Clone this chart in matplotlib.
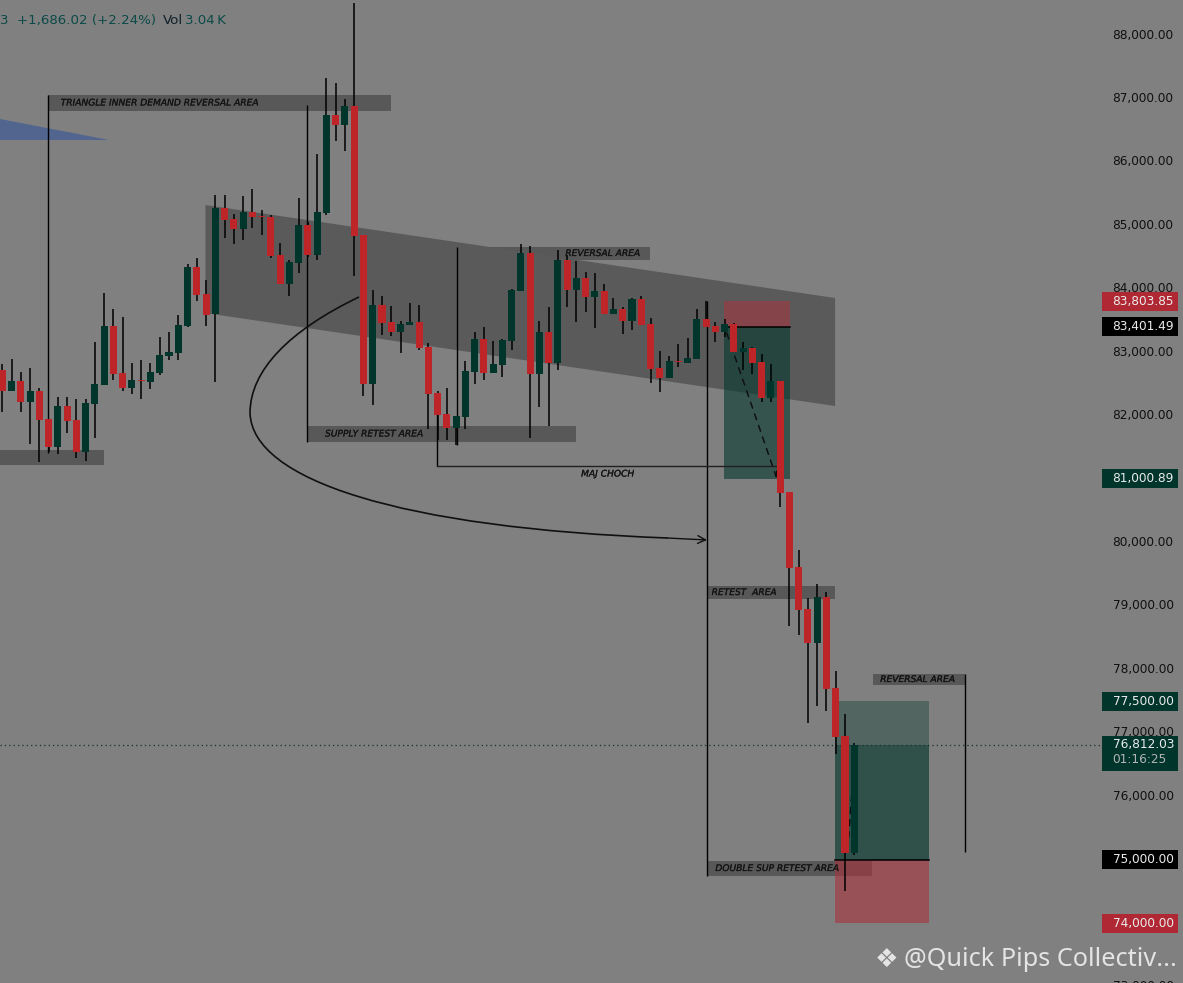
import matplotlib
matplotlib.use('Agg')
import matplotlib.pyplot as plt
import matplotlib.patheffects as pe
from matplotlib.patches import Polygon, Rectangle, PathPatch
from matplotlib.path import Path
import numpy as np

# candles, one entry per bar
opens = [82720,82390,82550,82210,82390,81950,81500,82150,81930,81430,
	82180,82480,83410,82670,82430,82560,82530,82670,82940,82990,
	83410,84340,83920,83600,85270,85100,84940,85210,85150,85130,
	84530,84070,84400,85000,84530,85190,86740,86580,86880,84850,
	82500,83740,83470,83320,83430,83470,83080,82350,82020,81800,
	81980,82685,83210,82670,82800,83170,83960,84560,82650,83320,
	82830,84450,83980,84170,83870,83960,83600,83680,83490,83840,
	83440,82750,82590,82860,82830,82890,83520,83410,83320,83440,
	83000,83060,82840,82280,82540,80790,79610,78950,78410,79140,
	77700,76950,75100]
highs = [82810,82890,82690,82750,82430,81950,82290,82290,82260,82260,
	83160,83930,83680,83550,82830,82880,82830,83240,83320,83590,
	84390,84480,84140,85480,85480,85180,85460,85570,85240,85160,
	84720,84450,85430,85050,86120,87320,87240,86990,88500,84850,
	83980,83890,83730,83490,83770,83740,83140,82390,82430,81990,
	82860,83320,83400,83170,83210,84000,84700,84670,83490,83710,
	84610,84530,84440,84260,84250,84070,83850,83710,83850,83880,
	83540,83020,82940,83130,83220,83680,83800,83470,83520,83460,
	83160,83080,82970,82810,82540,80790,79880,79120,79340,79220,
	77970,77290,76840]
lows = [82050,82390,82060,81550,81270,81420,81390,81720,81330,81280,
	81650,82480,82560,82390,82340,82260,82420,82640,82880,82880,
	83400,83810,83410,82530,84800,84700,84770,84960,84850,84480,
	84070,83890,84250,84500,84450,85160,86330,86170,84200,82310,
	82170,83270,83250,82990,83430,83030,81790,81610,81610,81530,
	81790,82500,82560,82670,82610,83030,83960,81650,82130,81830,
	82720,83710,83470,83630,83380,83600,83600,83290,83350,83430,
	82510,82370,82590,82760,82830,82890,83400,83160,83240,83000,
	82720,82650,82210,82210,80560,78680,78540,77150,77420,77350,
	76660,74500,75080]
closes = [82390,82550,82210,82390,81930,81500,82150,81910,81430,82200,
	82500,83410,82650,82430,82560,82540,82690,82950,83000,83430,
	84340,83900,83590,85270,85080,84940,85210,85130,85130,84515,
	84070,84420,85000,84530,85210,86740,86580,86880,84830,82500,
	83740,83460,83320,83440,83470,83060,82340,82010,81800,81990,
	82700,83210,82670,82810,83190,83980,84560,82650,83320,82830,
	84450,83980,84170,83870,83960,83600,83680,83490,83840,83430,
	82730,82590,82860,82840,82910,83520,83400,83320,83440,83000,
	83060,82830,82280,82540,80780,79590,78930,78410,79140,77690,
	76930,75100,76812.03]

price_ticks = [88000,87000,86000,85000,84000,83000,82000,81000,80000,79000,78000,77000,76000,73000]
last_price = 76812.03

# drawings, x in bars and y in price
channel_x = [21.94, 89.93, 89.93, 21.94]
channel_y = [85320, 83854, 82151, 83617]
triangle_x = [-0.25, 11.52, -0.25]
triangle_y = [86676, 86345, 86345]

zone_names = ['TRIANGLE INNER DEMAND REVERSAL AREA', '', 'SUPPLY RETEST AREA', 'REVERSAL AREA', 'RETEST  AREA', 'DOUBLE SUP RETEST AREA', 'REVERSAL AREA']
zone_left = [4.93, -0.25, 32.9, 49.05, 76.1, 76.1, 94.03]
zone_right = [41.98, 10.98, 61.95, 69.95, 89.93, 93.92, 103.96]
zone_top = [87054, 81457, 81836, 84658, 79313, 74978, 77926]
zone_bottom = [86802, 81221, 81584, 84453, 79108, 74742, 77753]
zone_text_x = [6.3, 0, 34.85, 60.8, 76.6, 77.0, 94.8]

line_x = [4.93, 32.9, 49.05, 46.94, 76.1, 103.96]
line_top = [87054, 86896, 84658, 82356, 83807, 77926]
line_bottom = [81415, 81584, 81536, 81205, 74742, 75120]

# position boxes: stop, entry, target
short_x = [77.94, 85.06]
short_levels = [83803.85, 83401.49, 81000.89]
long_x = [89.93, 100.07]
long_levels = [74000.00, 75000.00, 77500.00]

BG = '#808080'
UP = '#00352b'
DOWN = '#bd2528'
TICK = '#101010'
GREEN_TAG = '#00352b'
RED_TAG = '#b02833'
thick = [pe.withStroke(linewidth=0.15, foreground='#141414')]

fig = plt.figure(figsize=(11.83, 9.83), dpi=100, facecolor=BG)
ax = fig.add_axes([0, 0, 1, 1])
ax.set_facecolor(BG)
ax.set_xlim(-0.25, 127.5)
ax.set_ylim(73055, 88552)
ax.axis('off')
trans = ax.get_yaxis_transform()

ax.add_patch(Polygon(np.column_stack([channel_x, channel_y]), color='#5a5a5a', lw=0, zorder=1))
ax.add_patch(Polygon(np.column_stack([triangle_x, triangle_y]), color='#51658f', lw=0, zorder=1))

for i in range(len(zone_names)):
	ax.add_patch(Rectangle((zone_left[i], zone_bottom[i]), zone_right[i]-zone_left[i], zone_top[i]-zone_bottom[i], color='black', alpha=0.31, lw=0, zorder=0.9))
	if zone_names[i]:
		ax.text(zone_text_x[i], (zone_top[i]+zone_bottom[i])/2, zone_names[i], style='italic', fontsize=6.55,
			color='#141414', va='center', ha='left', zorder=6, path_effects=thick)

# short setup
ax.add_patch(Rectangle((short_x[0], short_levels[1]), short_x[1]-short_x[0], short_levels[0]-short_levels[1], color='#a8323c', alpha=0.55, lw=0, zorder=1.5))
ax.add_patch(Rectangle((short_x[0], short_levels[2]), short_x[1]-short_x[0], short_levels[1]-short_levels[2], color='#07392e', alpha=0.62, lw=0, zorder=1.5))
ax.plot(short_x, [short_levels[1]]*2, color='black', lw=1.1, zorder=2)

# long setup, the part up to the last price is filled darker
ax.add_patch(Rectangle((long_x[0], long_levels[0]), long_x[1]-long_x[0], long_levels[1]-long_levels[0], color='#a8323c', alpha=0.6, lw=0, zorder=1.5))
ax.add_patch(Rectangle((long_x[0], long_levels[1]), long_x[1]-long_x[0], long_levels[2]-long_levels[1], color='#07392e', alpha=0.38, lw=0, zorder=1.5))
ax.add_patch(Rectangle((long_x[0], long_levels[1]), long_x[1]-long_x[0], last_price-long_levels[1], color='#07392e', alpha=0.45, lw=0, zorder=1.6))
ax.plot(long_x, [long_levels[1]]*2, color='black', lw=1.1, zorder=2)

ax.plot([-0.25, 118.6], [last_price, last_price], color='#16332d', lw=0.9, ls=(0, (1, 2.5)), zorder=2)

ax.vlines(line_x, line_bottom, line_top, color='black', lw=1.0, zorder=3)
ax.plot([46.94, 83.55], [81205, 81205], color='#202020', lw=1.0, zorder=3)
ax.text(62.5, 81079, 'MAJ CHOCH', style='italic', fontsize=6.55, color='#141414', va='center', zorder=6, path_effects=thick)

# curved arrow round to the long vertical
curve_pts = [(38.52, 83870), (31.07, 83349), (26.75, 82719), (26.75, 82041), (26.97, 80985), (42.95, 80228), (71.89, 80070)]
curve_codes = [Path.MOVETO] + [Path.CURVE4]*6
ax.add_patch(PathPatch(Path(curve_pts, curve_codes), fill=False, color='#101010', lw=1.2, zorder=3))
ax.annotate('', xy=(76.1, 80039), xytext=(71.89, 80070), arrowprops=dict(arrowstyle='->', color='#101010', lw=1.0, mutation_scale=14, shrinkA=0, shrinkB=0), zorder=3)

# dashed path arrows
ax.annotate('', xy=(83.62, 81016), xytext=(78.23, 83302), arrowprops=dict(arrowstyle='->', color='#101010', lw=1.1, ls=(0, (4, 4)), mutation_scale=9, shrinkA=0, shrinkB=0), zorder=3)
ax.annotate('', xy=(92.1, 76807), xytext=(91.3, 75151), arrowprops=dict(arrowstyle='->', color='#101010', lw=1.1, ls=(0, (4, 4)), mutation_scale=9, shrinkA=0, shrinkB=0), zorder=3)

# candles
bars = np.arange(len(opens))
o = np.array(opens)
c = np.array(closes)
colors = [UP if closes[i] >= opens[i] else DOWN for i in bars]
ax.vlines(bars, lows, highs, color='black', lw=1.1, zorder=4)
ax.bar(bars, np.maximum(np.abs(c-o), 20), bottom=np.minimum(o, c), width=0.76, color=colors, lw=0, zorder=5)

# price scale
for p in price_ticks:
	ax.text(0.9405, p, f'{p:,.2f}', transform=trans, fontsize=8.7, color=TICK, va='center', ha='left', clip_on=True, zorder=6)

tag_prices = [83803.85, 83401.49, 81000.89, 77500.00, 75000.00, 74000.00]
tag_colors = [RED_TAG, 'black', GREEN_TAG, GREEN_TAG, 'black', RED_TAG]
for p, col in zip(tag_prices, tag_colors):
	ax.add_patch(Rectangle((0.9315, p-150), 0.0645, 300, transform=trans, color=col, lw=0, zorder=7))
	ax.text(0.9405, p, f'{p:,.2f}', transform=trans, fontsize=8.7, color='#ececec', va='center', ha='left', zorder=8)

ax.add_patch(Rectangle((0.9315, 76397), 0.0645, 552, transform=trans, color=GREEN_TAG, lw=0, zorder=7))
ax.text(0.9405, last_price, '76,812.03', transform=trans, fontsize=8.7, color='#ececec', va='center', ha='left', zorder=8)
ax.text(0.9405, 76575, '01:16:25', transform=trans, fontsize=8.7, color='#b4b4b4', va='center', ha='left', zorder=8)

# header
ax.text(0.0, 0.9795, '3', transform=ax.transAxes, fontsize=9.6, color='#0b4a48', va='center', ha='left')
ax.text(0.0145, 0.9795, '+1,686.02 (+2.24%)', transform=ax.transAxes, fontsize=9.6, color='#0b4a48', va='center', ha='left')
ax.text(0.1375, 0.9795, 'Vol', transform=ax.transAxes, fontsize=9.6, color='#10202a', va='center', ha='left')
ax.text(0.1565, 0.9795, '3.04\u2009K', transform=ax.transAxes, fontsize=9.6, color='#0b4a48', va='center', ha='left')

# watermark
ax.text(0.7495, 0.0235, '\u2756', transform=ax.transAxes, fontsize=19, color='#e4e4e4', va='center', ha='center', zorder=9)
ax.text(0.7645, 0.0235, '@Quick Pips Collectiv...', transform=ax.transAxes, fontsize=18.2, family='Noto Sans', color='#e4e4e4', va='center', ha='left', zorder=9)

fig.savefig('out.png', dpi=100, facecolor=BG)
plt.close()
